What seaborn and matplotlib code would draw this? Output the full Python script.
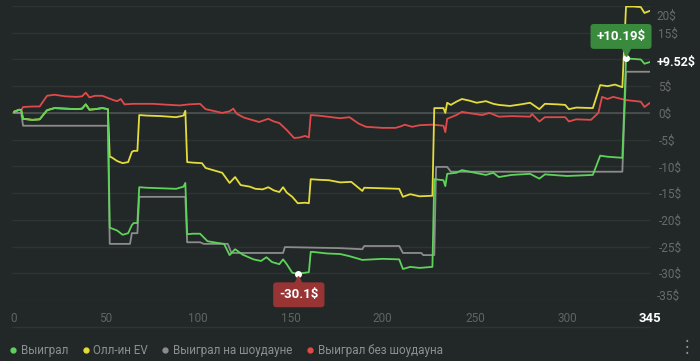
import numpy as np
import pandas as pd
import seaborn as sns
import matplotlib
matplotlib.use("Agg")
import matplotlib.pyplot as plt
from matplotlib.lines import Line2D
from matplotlib.transforms import offset_copy

# ---------------- data ----------------
won_x = [0, 3, 4, 5, 10, 14, 18, 22, 28, 34, 37, 39, 41, 44, 48, 51, 52, 53, 56, 59, 62, 64, 65, 67, 68,
         72, 80, 88, 92, 93, 94, 97, 101, 105, 110, 114, 117, 120, 124, 130, 134, 137, 140, 144, 146, 148,
         151, 154, 158, 160, 161, 162, 170, 177, 182, 189, 200, 209, 211, 215, 220, 227, 228, 233, 234, 235,
         240, 243, 250, 256, 260, 263, 270, 280, 285, 288, 300, 314, 318, 322, 330, 332, 336, 340, 342, 345]
won_y = [0.2, 0.6, 0.5, -1.1, -1.3, -1.2, 0.5, 0.9, 0.8, 0.7, 0.8, 1.6, 0.6, 0.7, 0.9, 0.7, -21.5, -21.6,
         -22.0, -22.8, -22.5, -21.0, -20.6, -20.6, -13.9, -14.0, -14.1, -14.2, -13.8, -13.1, -22.7, -22.6,
         -22.6, -24.0, -24.3, -24.5, -26.6, -25.5, -26.5, -27.4, -27.7, -27.0, -27.9, -28.3, -27.4, -28.3,
         -29.9, -30.1, -29.9, -29.8, -26.0, -26.0, -26.3, -26.4, -26.8, -27.5, -27.3, -27.4, -29.2, -28.8,
         -29.0, -28.8, -12.4, -12.6, -13.7, -11.4, -11.2, -10.7, -11.2, -11.6, -11.2, -12.0, -11.6, -11.4,
         -12.3, -11.5, -11.8, -11.6, -8.0, -8.2, -8.4, 10.19, 10.1, 10.0, 9.2, 9.52]

sd_x = [0, 4, 5, 51, 52, 63, 64, 67, 68, 93, 94, 101, 103, 116, 118, 146, 147, 177, 189, 190, 209, 211,
        221, 222, 228, 229, 235, 237, 330, 332, 345]
sd_y = [0, 0, -2.4, -2.4, -24.5, -24.5, -22.5, -22.5, -15.7, -15.7, -24.2, -24.2, -24.5, -24.5, -26.2,
        -26.2, -25.1, -25.3, -25.5, -24.9, -24.9, -26.2, -26.2, -26.6, -26.6, -10.1, -10.1, -11.0, -11.0,
        7.7, 7.7]

ev_x = [0, 3, 4, 5, 10, 14, 18, 22, 28, 34, 37, 39, 41, 44, 48, 51, 52, 53, 56, 59, 62, 64, 65, 67, 68,
        72, 80, 88, 92, 93, 94, 97, 102, 104, 108, 113, 117, 120, 123, 128, 131, 135, 138, 141, 144, 146,
        148, 151, 154, 158, 160, 161, 165, 171, 177, 183, 189, 190, 200, 209, 211, 215, 220, 227, 228, 233,
        234, 235, 237, 240, 243, 247, 251, 256, 260, 263, 269, 275, 280, 285, 288, 295, 299, 301, 305, 314,
        318, 322, 326, 330, 332, 336, 340, 342, 345]
ev_y = [0.2, 0.6, 0.5, -1.1, -1.3, -1.2, 0.5, 0.9, 0.8, 0.7, 0.8, 1.6, 0.6, 0.7, 0.9, 0.7, -8.2, -8.3,
        -9.0, -9.4, -9.2, -7.3, -7.1, -7.1, -0.4, -0.5, -0.6, -0.8, -0.5, 0.4, -9.2, -9.3, -9.4, -10.3,
        -10.7, -11.2, -13.1, -12.0, -13.5, -13.8, -14.2, -14.3, -13.9, -14.5, -14.8, -13.9, -14.9, -15.7,
        -16.9, -16.8, -16.9, -12.4, -12.5, -12.6, -13.0, -12.9, -14.6, -14.0, -14.1, -14.2, -15.7, -15.2,
        -15.6, -15.5, 0.9, 0.9, 0.0, 1.9, 1.5, 2.1, 2.6, 2.3, 1.9, 2.2, 1.7, 1.5, 1.3, 1.6, 1.9, 0.7, 1.7,
        1.6, 1.5, 0.7, 1.0, 0.9, 5.2, 5.0, 5.3, 4.8, 19.9, 19.9, 19.8, 18.7, 19.1]

nsd_x = [0, 3, 4, 5, 10, 14, 18, 22, 28, 34, 37, 39, 41, 44, 48, 51, 54, 56, 58, 60, 65, 75, 85, 90, 95,
         101, 104, 108, 113, 117, 119, 121, 125, 130, 133, 138, 141, 144, 148, 152, 155, 158, 160, 161, 165,
         170, 177, 182, 187, 191, 200, 207, 210, 212, 216, 220, 227, 233, 234, 235, 240, 243, 248, 254, 258,
         263, 270, 280, 281, 285, 288, 299, 301, 305, 313, 317, 319, 322, 325, 332, 340, 342, 345]
nsd_y = [0.2, 0.6, 0.5, 1.1, 1.2, 1.2, 3.2, 3.4, 3.1, 3.0, 3.1, 3.8, 2.9, 3.2, 3.2, 2.8, 2.4, 2.2, 2.6,
         1.6, 1.7, 1.7, 1.5, 1.4, 1.6, 1.7, 0.7, 0.4, 0.0, 0.3, 0.8, -0.2, -0.9, -1.4, -1.7, -1.1, -1.6,
         -1.9, -3.2, -4.7, -4.6, -4.3, -4.6, -0.4, -0.5, -0.7, -1.0, -0.8, -2.0, -2.6, -2.8, -2.8, -2.5,
         -2.2, -2.6, -2.3, -2.2, -2.4, -3.6, -1.1, -0.4, 0.2, -0.1, -0.4, 0.0, -0.7, -0.6, -0.7, -0.2, -1.6,
         -0.8, -0.8, -1.6, -1.2, -1.3, 0.0, 3.0, 2.6, 3.0, 2.4, 2.1, 1.1, 1.9]

names = ["Выиграл", "Олл-ин EV", "Выиграл на шоудауне", "Выиграл без шоудауна"]
colors = ["#5ed35b", "#e3dc3c", "#8c8c8c", "#e04a4a"]
x_ticks = [0, 50, 100, 150, 200, 250, 300]
y_ticks = [-35, -30, -25, -20, -15, -10, -5, 0, 5, 10, 15, 20]

frames = []
for n, xs, ys in zip(names, [won_x, ev_x, sd_x, nsd_x], [won_y, ev_y, sd_y, nsd_y]):
    frames.append(pd.DataFrame({"hand": xs, "value": ys, "series": n}))
df = pd.concat(frames, ignore_index=True)

# ---------------- style ----------------
BG = "#222827"
sns.set_theme(style="dark")
plt.rcParams["font.family"] = ["Roboto", "DejaVu Sans"]

fig = plt.figure(figsize=(7.0, 3.61), dpi=100, facecolor=BG)
ax = fig.add_axes([12 / 700, 61 / 361, 638 / 700, 294 / 361])
ax.set_facecolor(BG)

# draw order: red, gray, yellow, green on top
zord = {names[0]: 6, names[1]: 5, names[2]: 4, names[3]: 3}
for n, c in zip(names, colors):
    sub = df[df["series"] == n]
    sns.lineplot(data=sub, x="hand", y="value", color=c, lw=1.3, ax=ax,
                 estimator=None, sort=False, legend=False, zorder=zord[n])

ax.set_xlim(-1, 345)
ax.set_ylim(-35, 20)
ax.set_xlabel("")
ax.set_ylabel("")

for s in ax.spines.values():
    s.set_visible(False)

ax.set_yticks(y_ticks)
ax.grid(axis="y", color="#2d3432", lw=1)
ax.grid(axis="x", visible=False)
ax.axhline(0, color="#4b504f", lw=1.3, zorder=1)

ax.yaxis.tick_right()
ylabels = [f"{v}$" for v in y_ticks]
for i, v in enumerate(y_ticks):
    if v in (10, 20, -35):
        ylabels[i] = ""
ax.set_yticklabels(ylabels)
ax.tick_params(axis="y", length=0, pad=6, labelsize=8.5, labelcolor="#676c6b")
for t in ax.get_yticklabels():
    t.set_horizontalalignment("left")

ytr = ax.get_yaxis_transform()
ax.text(1.0105, 18.0, "20$", transform=ytr, ha="left", va="center", fontsize=8.5, color="#676c6b")
ax.text(1.0105, -34.4, "-35$", transform=ytr, ha="left", va="center", fontsize=8.5, color="#676c6b")
ax.text(1.0105, won_y[-1], f"+{won_y[-1]:.2f}$", transform=ytr, ha="left", va="center",
        fontsize=9, color="white", fontweight="bold")

ax.set_xticks(x_ticks + [345])
ax.set_xticklabels([str(v) for v in x_ticks] + ["345"])
ax.tick_params(axis="x", length=0, pad=9, labelsize=8.5, labelcolor="#5f6463")
last = ax.get_xticklabels()[-1]
last.set_color("white")
last.set_fontweight("bold")
last.set_fontsize(9.5)

# separator line under x labels
fig.add_artist(Line2D([12 / 700, 650 / 700], [34 / 361, 34 / 361], color="#2e3533", lw=1,
                      transform=fig.transFigure))

# ---------------- callouts ----------------
imax = int(np.argmax(won_y[60:])) + 60
imin = int(np.argmin(won_y))
pmax = (won_x[imax], won_y[imax])
pmin = (won_x[imin], won_y[imin])

ax.plot(*pmax, "o", color="white", ms=4, zorder=10, clip_on=False)
ax.plot(*pmin, "o", color="white", ms=4, zorder=10, clip_on=False)

tr_up = offset_copy(ax.transData, fig=fig, x=-5, y=22, units="dots")
ax.text(*pmax, f"+{won_y[imax]:.2f}$", transform=tr_up, ha="center", va="center",
        fontsize=9.5, color="white", fontweight="bold", zorder=11,
        bbox=dict(boxstyle="round,pad=0.45,rounding_size=0.25", fc="#3a8a3e", ec="none"))
tri_up = offset_copy(ax.transData, fig=fig, x=0, y=6, units="dots")
ax.plot(*pmax, marker="v", color="#3a8a3e", ms=6, transform=tri_up, zorder=10, clip_on=False)

tr_dn = offset_copy(ax.transData, fig=fig, x=1, y=-21, units="dots")
ax.text(*pmin, f"{won_y[imin]:.1f}$", transform=tr_dn, ha="center", va="center",
        fontsize=9.5, color="white", fontweight="bold", zorder=11,
        bbox=dict(boxstyle="round,pad=0.45,rounding_size=0.25", fc="#983434", ec="none"), clip_on=False)
tri_dn = offset_copy(ax.transData, fig=fig, x=0, y=-6, units="dots")
ax.plot(*pmin, marker="^", color="#983434", ms=6, transform=tri_dn, zorder=10, clip_on=False)

# ---------------- legend ----------------
handles = [Line2D([0], [0], marker="o", ls="none", color=c, ms=3.5) for c in colors]
leg = fig.legend(handles, names, loc="lower left", bbox_to_anchor=(-2 / 700, -4 / 361), ncol=4,
                 frameon=False, fontsize=8.4, handletextpad=0.05, columnspacing=0.9,
                 handlelength=1.2, borderaxespad=0.3)
for t in leg.get_texts():
    t.set_color("#8b9090")

fig.text(687 / 700, 14 / 361, "⋮", color="#8b9090", fontsize=12, ha="center", va="center",
         family=["DejaVu Sans"])

fig.savefig("out.png", dpi=100, facecolor=BG)
